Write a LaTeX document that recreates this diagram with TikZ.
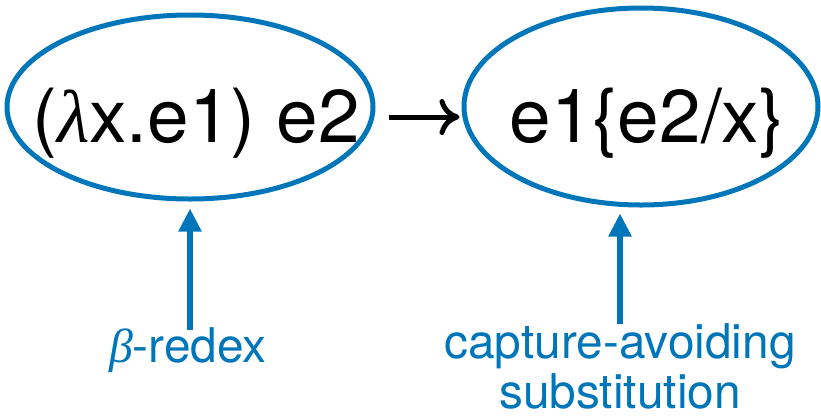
\documentclass[tikz,border=0pt]{standalone}
\usepackage{fontspec}
\setmainfont{TeX Gyre Heros}
\newfontfamily\greekit{Liberation Serif}
\usetikzlibrary{arrows.meta,shapes.geometric}
\definecolor{kblue}{RGB}{0,118,186}
\newcommand{\grk}[1]{{\greekit\itshape #1}}
\begin{document}
\begin{tikzpicture}[x=1bp,y=-1bp,
  oval/.style={ellipse, draw=kblue, line width=5bp, inner sep=0pt},
  bigtext/.style={font=\fontsize{75}{90}\selectfont, inner sep=0pt, anchor=base},
  note/.style={font=\fontsize{48}{51}\selectfont, text=kblue, inner sep=0pt, align=center},
  pointer/.style={draw=kblue, line width=5.5bp, -{Triangle[width=22bp,length=23bp]}},
  reduce/.style={draw=black, line width=5bp, -{To[length=20bp,width=36bp]}}
]
\useasboundingbox (0,0) rectangle (821,417);
\node[oval, minimum width=366bp, minimum height=184bp] (e1) at (190,107) {};
\node[oval, minimum width=354bp, minimum height=197bp] (e2) at (641,106.5) {};
\node[bigtext] (t1) at (196,142) {(\grk{λ}x.e1) e2};
\node[bigtext] (t2) at (647,142) {e1\{e2/x\}};
\draw[reduce, shorten <=13bp, shorten >=2bp] ([yshift=-10bp]e1.east) -- ([yshift=-10bp]e1.east -| e2.west);
\node[note, anchor=base] (l1) at (188,362) {\grk{β}-redex};
\node[note, anchor=north] (l2) at (620,323) {capture-avoiding\\substitution};
\draw[pointer, shorten <=-3bp, shorten >=7bp] (l1.north -| e1.south) -- (e1.south);
\draw[pointer, shorten <=-1bp, shorten >=6bp] (l2.north) -- (l2.north |- e2.south);
\end{tikzpicture}
\end{document}
